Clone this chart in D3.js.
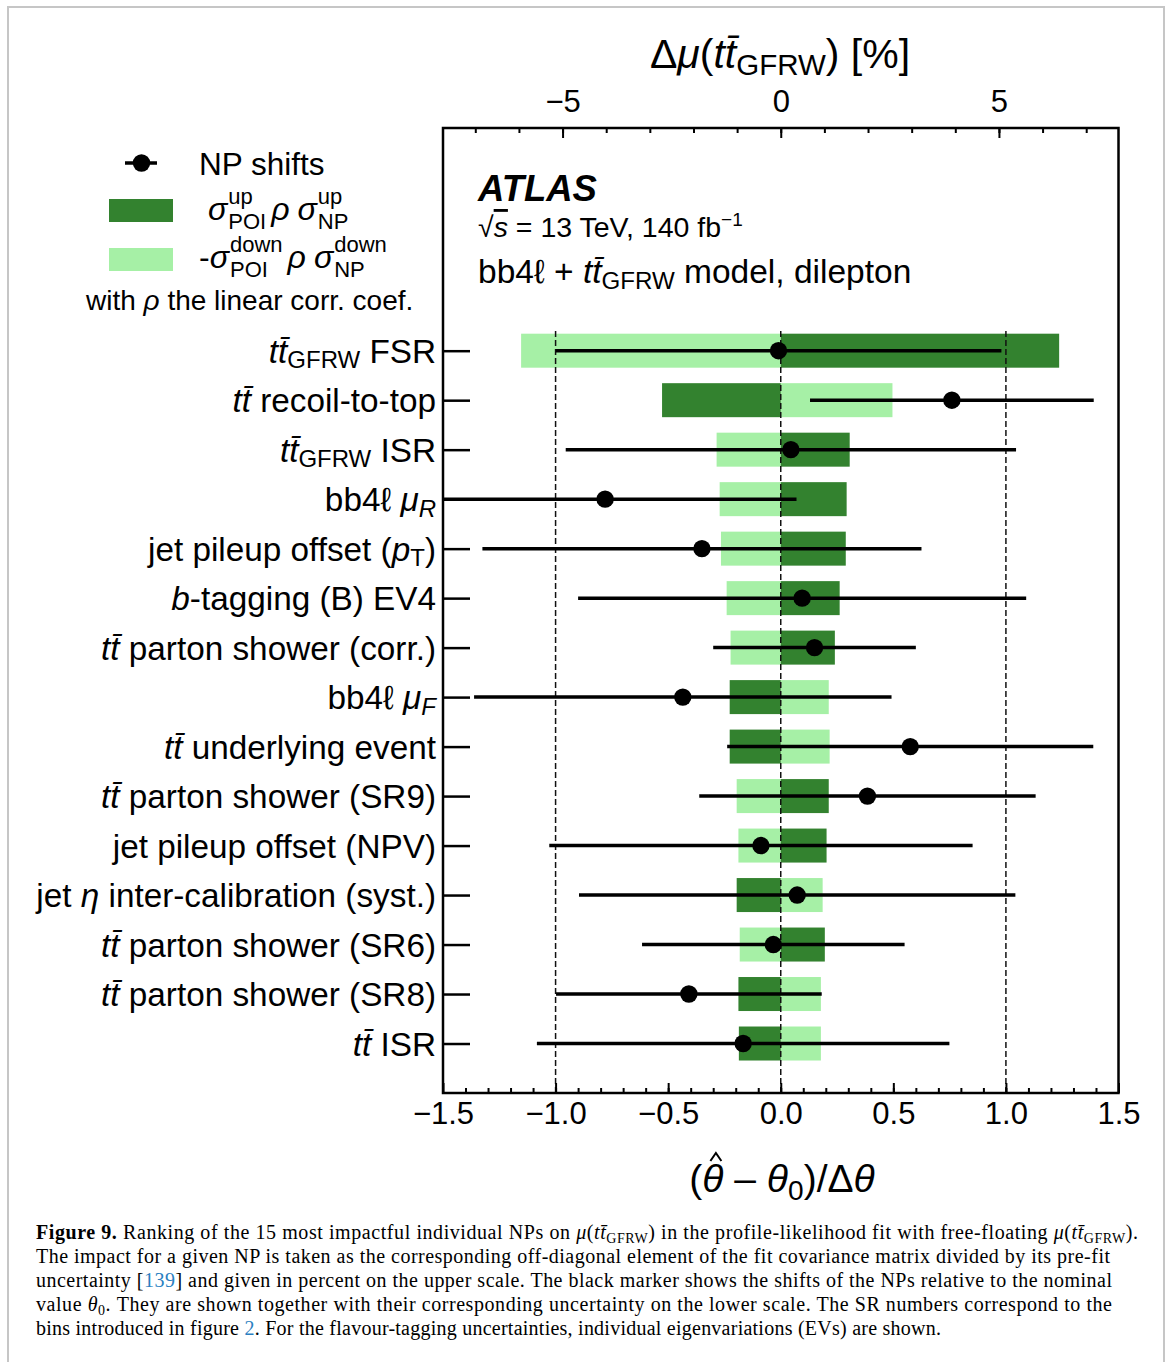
<!DOCTYPE html>
<html>
<head>
<meta charset="utf-8">
<script src="https://cdn.jsdelivr.net/npm/d3@7"></script>
<style>
  body { margin: 0; background: #ffffff; }
  svg text { fill: #000; }
</style>
</head>
<body>
<div id="chart"></div>
<script>
// ranked NPs, top to bottom
const labels = [
  '*tt\u0304*_{GFRW} FSR',
  '*tt\u0304* recoil-to-top',
  '*tt\u0304*_{GFRW} ISR',
  'bb4\u2113 *\u03bc*_{*R*}',
  'jet pileup offset (*p*_{T})',
  '*b*-tagging (B) EV4',
  '*tt\u0304* parton shower (corr.)',
  'bb4\u2113 *\u03bc*_{*F*}',
  '*tt\u0304* underlying event',
  '*tt\u0304* parton shower (SR9)',
  'jet pileup offset (NPV)',
  'jet *\u03b7* inter-calibration (syst.)',
  '*tt\u0304* parton shower (SR6)',
  '*tt\u0304* parton shower (SR8)',
  '*tt\u0304* ISR'
];
// impact on mu in %, upper scale
const impactUp   = [6.38, -2.72, 1.58, 1.51, 1.49, 1.35, 1.24, -1.17, -1.17, 1.10, 1.05, -1.01, 1.01, -0.97, -0.96];
const impactDown = [-5.95, 2.56, -1.47, -1.40, -1.37, -1.24, -1.15, 1.10, 1.12, -1.01, -0.97, 0.96, -0.94, 0.92, 0.92];
// pulls and their uncertainties, lower scale
const pulls      = [-0.01, 0.76, 0.045, -0.78, -0.35, 0.095, 0.15, -0.435, 0.575, 0.385, -0.088, 0.073, -0.033, -0.408, -0.167];
const pullErrors = [0.99, 0.63, 1.0, 0.85, 0.975, 0.995, 0.45, 0.927, 0.813, 0.747, 0.94, 0.969, 0.583, 0.59, 0.916];

const bottomTicks = [-1.5, -1.0, -0.5, 0.0, 0.5, 1.0, 1.5];
const topTicks = [-5, 0, 5];
const refLines = [-1, 0, 1];

const captionLines = [
  '#{Figure 9.} Ranking of the 15 most impactful individual NPs on *\u03bc*(*tt\u0304*_{GFRW}) in the profile-likelihood fit with free-floating *\u03bc*(*tt\u0304*_{GFRW}).',
  'The impact for a given NP is taken as the corresponding off-diagonal element of the fit covariance matrix divided by its pre-fit',
  'uncertainty [@{139}] and given in percent on the upper scale. The black marker shows the shifts of the NPs relative to the nominal',
  'value *\u03b8*_{0}. They are shown together with their corresponding uncertainty on the lower scale. The SR numbers correspond to the',
  'bins introduced in figure @{2}. For the flavour-tagging uncertainties, individual eigenvariations (EVs) are shown.'
];
const captionWidths = [1102, 1074, 1076, 1076, 905];

const DARK = '#33822f';
const LIGHT = '#a6f0a6';

const W = 1171, H = 1362;
const pLeft = 443, pRight = 1118.5, pTop = 128, pBottom = 1093;
const rowH = 34;

// tiny markup: *it*, _{sub}, ^{sup}, #{bold}, @{link}
function rich(sel, str, size, subScale = 0.7, subDrop = 0.2) {
  const parts = str.split(/(\*[^*]+\*|_\{[^}]*\}|\^\{[^}]*\}|#\{[^}]*\}|@\{[^}]*\})/).filter(s => s);
  let shift = 0;
  parts.forEach(p => {
    let txt = p, italic = false, bold = false, link = false, dy = 0, fs = size;
    if (p.startsWith('*')) { txt = p.slice(1, -1); italic = true; }
    else if (p.startsWith('_{')) { txt = p.slice(2, -1); dy = subDrop * size; fs = subScale * size; }
    else if (p.startsWith('^{')) { txt = p.slice(2, -1); dy = -0.4 * size; fs = subScale * size; }
    else if (p.startsWith('#{')) { txt = p.slice(2, -1); bold = true; }
    else if (p.startsWith('@{')) { txt = p.slice(2, -1); link = true; }
    if (txt.length > 2 && txt.startsWith('*') && txt.endsWith('*')) { txt = txt.slice(1, -1); italic = true; }
    sel.append('tspan')
      .attr('dy', dy - shift)
      .attr('font-size', fs)
      .attr('font-style', italic ? 'italic' : null)
      .attr('font-weight', bold ? 'bold' : null)
      .style('fill', link ? '#2a7fc1' : null)
      .text(txt);
    shift = dy;
  });
}

const svg = d3.select('#chart')
  .append('svg')
  .attr('width', W)
  .attr('height', H)
  .style('font-family', '"Liberation Sans", Arial, Helvetica, sans-serif');

// page frame
svg.append('rect')
  .attr('x', 8).attr('y', 7)
  .attr('width', 1156).attr('height', 1400)
  .attr('fill', 'none')
  .attr('stroke', '#c6c6c6')
  .attr('stroke-width', 2);

// scales
const x = d3.scaleLinear().domain([-1.5, 1.5]).range([pLeft, pRight]);
const xTop = d3.scaleLinear().domain([-7.74, 7.74]).range([pLeft, pRight]);
const y = d3.scaleLinear().domain([0, 19.5]).range([pBottom, pTop]);
const rowPos = labels.map((d, i) => labels.length - i);

svg.append('clipPath').attr('id', 'plotclip')
  .append('rect')
  .attr('x', pLeft).attr('y', pTop)
  .attr('width', pRight - pLeft).attr('height', pBottom - pTop);

const plot = svg.append('g');

// impact bars
plot.selectAll('rect.down')
  .data(impactDown)
  .enter()
  .append('rect')
  .attr('class', 'down')
  .attr('x', d => xTop(Math.min(0, d)))
  .attr('width', d => Math.abs(xTop(d) - xTop(0)))
  .attr('y', (d, i) => y(rowPos[i]) - rowH / 2)
  .attr('height', rowH)
  .attr('fill', LIGHT);

plot.selectAll('rect.up')
  .data(impactUp)
  .enter()
  .append('rect')
  .attr('class', 'up')
  .attr('x', d => xTop(Math.min(0, d)))
  .attr('width', d => Math.abs(xTop(d) - xTop(0)))
  .attr('y', (d, i) => y(rowPos[i]) - rowH / 2)
  .attr('height', rowH)
  .attr('fill', DARK);

// dashed reference lines
plot.selectAll('line.ref')
  .data(refLines)
  .enter()
  .append('line')
  .attr('x1', d => x(d)).attr('x2', d => x(d))
  .attr('y1', y(0)).attr('y2', y(15.45))
  .attr('stroke', '#111')
  .attr('stroke-width', 1.5)
  .attr('stroke-dasharray', '6,3');

// pulls
plot.append('g')
  .attr('clip-path', 'url(#plotclip)')
  .selectAll('line')
  .data(pulls)
  .enter()
  .append('line')
  .attr('x1', (d, i) => x(d - pullErrors[i]))
  .attr('x2', (d, i) => x(d + pullErrors[i]))
  .attr('y1', (d, i) => y(rowPos[i]))
  .attr('y2', (d, i) => y(rowPos[i]))
  .attr('stroke', '#000')
  .attr('stroke-width', 3.5);

plot.selectAll('circle')
  .data(pulls)
  .enter()
  .append('circle')
  .attr('cx', d => x(d))
  .attr('cy', (d, i) => y(rowPos[i]))
  .attr('r', 8.7)
  .attr('fill', '#000');

// axes
function styleAxis(g, size) {
  g.select('.domain').remove();
  g.selectAll('line').attr('stroke', '#000').attr('stroke-width', 2);
  g.selectAll('text').attr('font-size', size).style('font-family', '"Liberation Sans", Arial, sans-serif');
  g.attr('font-family', null).attr('font-size', null);
}

svg.append('g')
  .attr('transform', `translate(0,${pBottom})`)
  .call(d3.axisBottom(x).tickValues(d3.range(-14, 15).map(v => v / 10)).tickSize(-5).tickFormat(''))
  .call(g => styleAxis(g, 31));
svg.append('g')
  .attr('transform', `translate(0,${pBottom})`)
  .call(d3.axisBottom(x).tickValues(bottomTicks).tickSize(-10).tickPadding(9).tickFormat(d3.format('.1f')))
  .call(g => styleAxis(g, 31));

svg.append('g')
  .attr('transform', `translate(0,${pTop})`)
  .call(d3.axisTop(xTop).tickValues(d3.range(-7, 8)).tickSize(-5).tickFormat(''))
  .call(g => styleAxis(g, 31));
svg.append('g')
  .attr('transform', `translate(0,${pTop})`)
  .call(d3.axisTop(xTop).tickValues(topTicks).tickSize(-10).tickPadding(16).tickFormat(d3.format('d')))
  .call(g => styleAxis(g, 31));

const yAxis = svg.append('g')
  .attr('transform', `translate(${pLeft},0)`)
  .call(d3.axisLeft(y).tickValues(rowPos).tickSize(-27).tickFormat(''));
yAxis.select('.domain').remove();
yAxis.selectAll('line').attr('stroke', '#000').attr('stroke-width', 2.5);

// row labels
labels.forEach((lab, i) => {
  const t = svg.append('text')
    .attr('x', 436)
    .attr('y', y(rowPos[i]) + 12)
    .attr('text-anchor', 'end')
    .attr('font-size', 33.3);
  rich(t, lab, 33.3, 0.72, 0.17);
});

// plot frame
svg.append('rect')
  .attr('x', pLeft).attr('y', pTop)
  .attr('width', pRight - pLeft).attr('height', pBottom - pTop)
  .attr('fill', 'none')
  .attr('stroke', '#000')
  .attr('stroke-width', 2.5);

// axis titles
const tTop = svg.append('text')
  .attr('x', 780).attr('y', 68)
  .attr('text-anchor', 'middle')
  .attr('font-size', 41);
rich(tTop, '\u0394*\u03bc*(*tt\u0304*_{GFRW}) [%]', 41, 0.72, 0.18);

const tBot = svg.append('text')
  .attr('x', 782).attr('y', 1192)
  .attr('text-anchor', 'middle')
  .attr('font-size', 39);
rich(tBot, '(*\u03b8* \u2013 *\u03b8*_{0})/\u0394*\u03b8*', 39, 0.72, 0.2);
// hat over the first theta, drawn as a small caret
const th = tBot.node().getExtentOfChar(1);
const hx = th.x + th.width / 2 + 3;
svg.append('path')
  .attr('d', d3.line()([[hx - 5.5, 1161], [hx, 1153], [hx + 5.5, 1161]]))
  .attr('fill', 'none')
  .attr('stroke', '#000')
  .attr('stroke-width', 2);

// ATLAS block
svg.append('text')
  .attr('x', 478).attr('y', 201)
  .attr('font-size', 36.5)
  .attr('font-weight', 'bold')
  .attr('font-style', 'italic')
  .text('ATLAS');

const sLine = svg.append('text')
  .attr('x', 478).attr('y', 237)
  .attr('font-size', 28.5);
sLine.append('tspan').text('\u221a');
sLine.append('tspan').attr('font-style', 'italic').style('text-decoration', 'overline').text('s');
sLine.append('tspan').text(' = 13 TeV, 140 fb');
sLine.append('tspan').attr('dy', -11).attr('font-size', 19).text('\u22121');

const mLine = svg.append('text')
  .attr('x', 478).attr('y', 283)
  .attr('font-size', 33.5);
rich(mLine, 'bb4\u2113 + *tt\u0304*_{GFRW} model, dilepton', 33.5, 0.72, 0.18);

// legend
const leg = svg.append('g');
leg.append('line')
  .attr('x1', 125).attr('x2', 157).attr('y1', 163).attr('y2', 163)
  .attr('stroke', '#000').attr('stroke-width', 3.5);
leg.append('circle').attr('cx', 141.5).attr('cy', 163).attr('r', 8.7).attr('fill', '#000');
leg.append('text').attr('x', 199).attr('y', 175).attr('font-size', 31.5).text('NP shifts');

leg.append('rect').attr('x', 109).attr('y', 199).attr('width', 64).attr('height', 23).attr('fill', DARK);
leg.append('rect').attr('x', 109).attr('y', 248).attr('width', 64).attr('height', 23).attr('fill', LIGHT);

function sigmaTerm(x0, yb, sup, sub) {
  const s = leg.append('text').attr('x', x0).attr('y', yb).attr('font-size', 32).attr('font-style', 'italic').text('\u03c3');
  const w = s.node().getComputedTextLength();
  const a = leg.append('text').attr('x', x0 + w + 1).attr('y', yb - 16).attr('font-size', 22).text(sup);
  const b = leg.append('text').attr('x', x0 + w + 1).attr('y', yb + 9).attr('font-size', 22).text(sub);
  return x0 + w + 1 + Math.max(a.node().getComputedTextLength(), b.node().getComputedTextLength());
}
function rho(x0, yb) {
  const r = leg.append('text').attr('x', x0).attr('y', yb).attr('font-size', 32).attr('font-style', 'italic').text('\u03c1');
  return x0 + r.node().getComputedTextLength();
}

let cx = sigmaTerm(208, 220, 'up', 'POI');
cx = rho(cx + 5, 220);
sigmaTerm(cx + 8, 220, 'up', 'NP');

const dash = leg.append('text').attr('x', 199).attr('y', 268).attr('font-size', 32).text('-');
cx = sigmaTerm(199 + dash.node().getComputedTextLength(), 268, 'down', 'POI');
cx = rho(cx + 5, 268);
sigmaTerm(cx + 8, 268, 'down', 'NP');

const withRho = leg.append('text').attr('x', 86).attr('y', 310).attr('font-size', 28);
rich(withRho, 'with *\u03c1* the linear corr. coef.', 28);

// caption
captionLines.forEach((line, i) => {
  const t = svg.append('text')
    .attr('x', 36)
    .attr('y', 1239 + i * 24)
    .attr('font-size', 20)
    .attr('textLength', captionWidths[i])
    .attr('lengthAdjust', 'spacing')
    .style('font-family', '"Liberation Serif", "Times New Roman", serif');
  rich(t, line, 20, 0.7, 0.2);
});
</script>
</body>
</html>
